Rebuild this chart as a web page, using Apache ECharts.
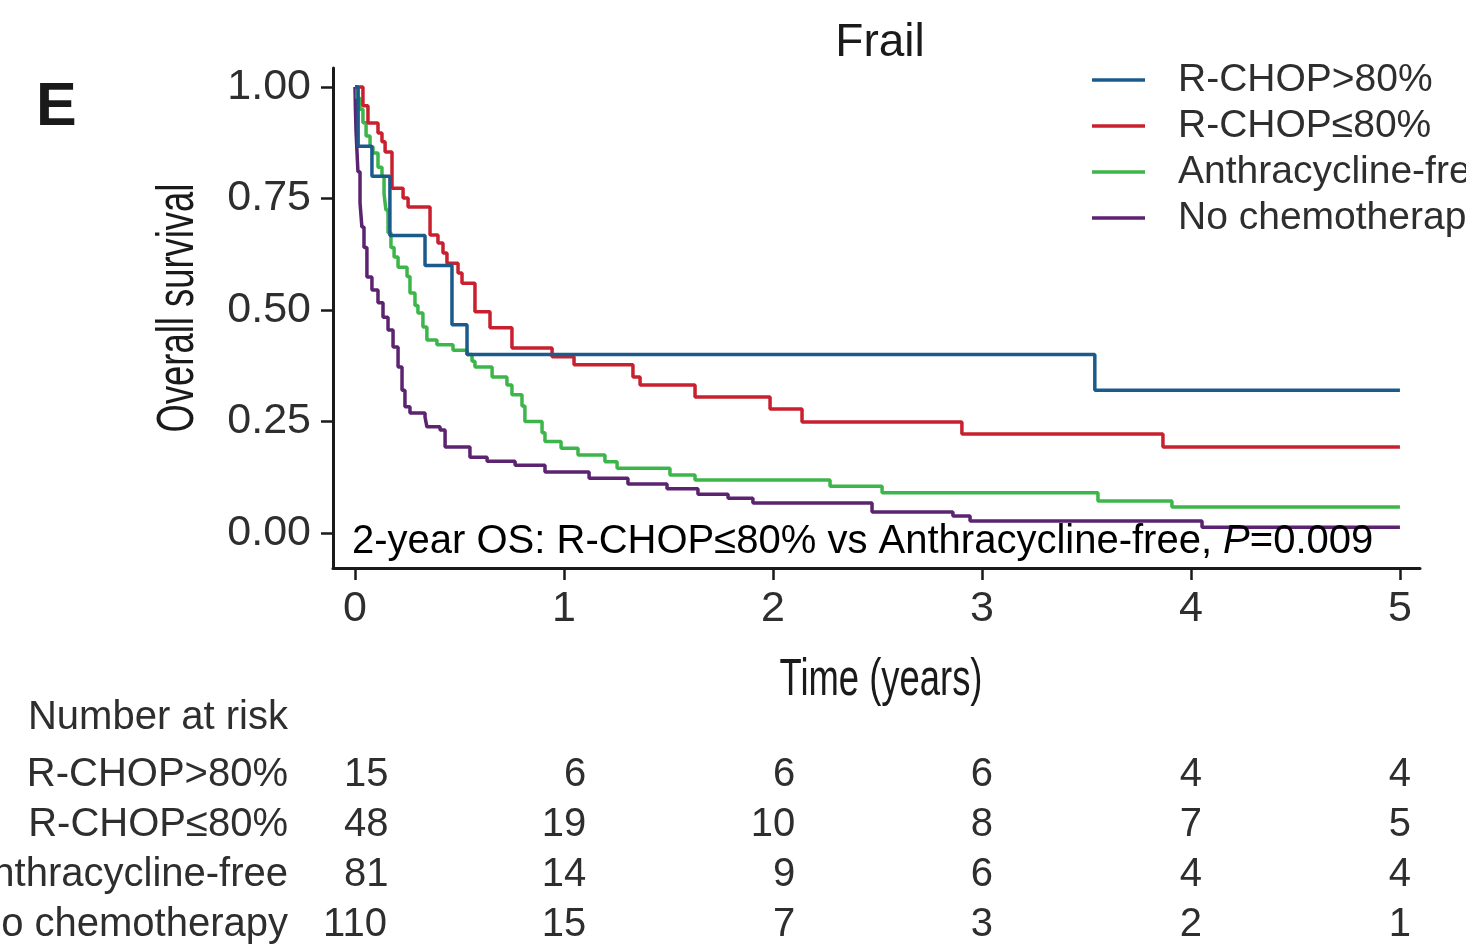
<!DOCTYPE html>
<html>
<head>
<meta charset="utf-8">
<script src="https://cdn.jsdelivr.net/npm/echarts@6/dist/echarts.min.js"></script>
<style>
  html, body { margin: 0; padding: 0; background: #fff; }
  #chart { width: 1466px; height: 944px; }
</style>
</head>
<body>
<div id="chart"></div>
<script>
// Kaplan-Meier steps: time (years) -> survival after the drop
const hiTime = [0, 0.015, 0.081, 0.167, 0.335, 0.464, 0.536, 3.54, 5];
const hiSurv = [1, 0.867, 0.8, 0.667, 0.6, 0.467, 0.4, 0.32, 0.32];

const loTime = [0, 0.038, 0.062, 0.11, 0.129, 0.144, 0.177, 0.23, 0.254, 0.359, 0.397, 0.421, 0.44,
  0.493, 0.512, 0.574, 0.646, 0.751, 0.943, 1.048, 1.33, 1.364, 1.627, 1.986, 2.139, 2.904, 3.866, 5];
const loSurv = [1, 0.958, 0.919, 0.897, 0.877, 0.854, 0.773, 0.751, 0.731, 0.668, 0.65, 0.628, 0.605,
  0.583, 0.56, 0.496, 0.46, 0.415, 0.395, 0.377, 0.35, 0.332, 0.305, 0.278, 0.249, 0.222, 0.193, 0.193];

const afTime = [0, 0.01, 0.024, 0.038, 0.053, 0.072, 0.086, 0.11, 0.129, 0.139, 0.148, 0.158, 0.172,
  0.187, 0.206, 0.249, 0.263, 0.287, 0.301, 0.325, 0.344, 0.392, 0.469, 0.536, 0.56, 0.574, 0.656,
  0.727, 0.751, 0.799, 0.813, 0.895, 0.909, 0.986, 1.067, 1.196, 1.254, 1.507, 1.627, 2.273, 2.522,
  3.555, 3.909, 5];
const afSurv = [1, 0.975, 0.95, 0.92, 0.89, 0.866, 0.852, 0.82, 0.8, 0.76, 0.724, 0.673, 0.64,
  0.619, 0.596, 0.575, 0.538, 0.51, 0.493, 0.462, 0.433, 0.422, 0.41, 0.4, 0.385, 0.372, 0.35,
  0.332, 0.31, 0.285, 0.25, 0.225, 0.205, 0.19, 0.175, 0.16, 0.145, 0.13, 0.119, 0.105, 0.09,
  0.072, 0.058, 0.058];

const ncTime = [0, 0.002, 0.005, 0.01, 0.014, 0.024, 0.033, 0.043, 0.057, 0.081, 0.11, 0.134, 0.158,
  0.182, 0.206, 0.225, 0.239, 0.263, 0.335, 0.344, 0.407, 0.431, 0.55, 0.632, 0.766, 0.909, 1.12,
  1.306, 1.493, 1.641, 1.785, 1.904, 2.474, 2.861, 2.943, 4.053, 5];
const ncSurv = [1, 0.95, 0.9, 0.85, 0.81, 0.74, 0.686, 0.64, 0.574, 0.545, 0.516, 0.484, 0.455,
  0.417, 0.372, 0.32, 0.283, 0.269, 0.26, 0.238, 0.231, 0.193, 0.17, 0.161, 0.152, 0.137, 0.123,
  0.11, 0.099, 0.087, 0.078, 0.067, 0.047, 0.038, 0.027, 0.013, 0.013];

const groupNames = ["R-CHOP>80%", "R-CHOP≤80%", "Anthracycline-free", "No chemotherapy"];
const groupColors = ["#1b5b8c", "#c8202f", "#3cb54a", "#5b2370"];

// number at risk table
const riskTimes = [0, 1, 2, 3, 4, 5];
const riskHi = [15, 6, 6, 6, 4, 4];
const riskLo = [48, 19, 10, 8, 7, 5];
const riskAf = [81, 14, 9, 6, 4, 4];
const riskNc = [110, 15, 7, 3, 2, 1];

const xTicks = [0, 1, 2, 3, 4, 5];
const yTicks = [0, 0.25, 0.5, 0.75, 1];

const FONT = "'Liberation Sans', Arial, sans-serif";
const TXT = "#2e2e2e";

const chart = echarts.init(document.getElementById("chart"));

const zip = (t, s) => t.map((v, i) => [v, s[i]]);
const curves = [zip(hiTime, hiSurv), zip(loTime, loSurv), zip(afTime, afSurv), zip(ncTime, ncSurv)];
const risks = [riskHi, riskLo, riskAf, riskNc];

// each column right-aligned, widest number centred on the tick
const digitW = 40 * 0.556;
const riskData = [];
riskTimes.forEach((t, j) => {
  const maxDigits = Math.max(...risks.map(r => String(r[j]).length));
  risks.forEach((r, i) => {
    const digits = String(r[j]).length;
    riskData.push({
      value: [t, groupNames[i], r[j]],
      label: { offset: [(maxDigits - digits) * digitW / 2, 0] },
    });
  });
});

const lineSeries = curves.map((d, i) => ({
  name: groupNames[i],
  type: "line",
  step: "end",
  data: d,
  symbol: "none",
  xAxisIndex: 0,
  yAxisIndex: 0,
  lineStyle: { color: groupColors[i], width: 3.5 },
  itemStyle: { color: groupColors[i] },
  z: 3 + (3 - i),
}));

const axisLineStyle = { color: "#1a1a1a", width: 3 };

const option = {
  animation: false,
  backgroundColor: "#fff",
  grid: [
    { left: 333, top: 68, width: 1087, height: 500, outerBoundsMode: "none", containLabel: false },
    { left: 333, top: 750, width: 1087, height: 200, outerBoundsMode: "none", containLabel: false },
  ],
  xAxis: [
    {
      type: "value",
      gridIndex: 0,
      min: -0.1053,
      max: 5.096,
      splitLine: { show: false },
      axisLine: { show: true, onZero: false, lineStyle: axisLineStyle },
      axisTick: { show: true, customValues: xTicks, length: 12, lineStyle: { color: "#1a1a1a", width: 2.5 } },
      axisLabel: {
        customValues: xTicks,
        margin: 20,
        fontSize: 43,
        fontFamily: FONT,
        color: TXT,
      },
    },
    {
      type: "value",
      gridIndex: 1,
      min: -0.1053,
      max: 5.096,
      show: false,
    },
  ],
  yAxis: [
    {
      type: "value",
      gridIndex: 0,
      min: -0.0785,
      max: 1.0426,
      splitLine: { show: false },
      axisLine: { show: true, onZero: false, lineStyle: axisLineStyle },
      axisTick: { show: true, customValues: yTicks, length: 12, lineStyle: { color: "#1a1a1a", width: 2.5 } },
      axisLabel: {
        customValues: yTicks,
        margin: 22,
        fontSize: 43,
        fontFamily: FONT,
        color: TXT,
        formatter: v => v.toFixed(2),
      },
    },
    {
      type: "category",
      gridIndex: 1,
      data: groupNames,
      inverse: true,
      axisLine: { show: false },
      axisTick: { show: false },
      splitLine: { show: false },
      axisLabel: { interval: 0, margin: 45, fontSize: 40, fontFamily: FONT, color: TXT },
    },
  ],
  legend: {
    orient: "vertical",
    left: 1092,
    top: 57,
    padding: 0,
    icon: "rect",
    itemWidth: 53,
    itemHeight: 3.5,
    itemGap: 0,
    selectedMode: false,
    data: groupNames,
    textStyle: {
      fontSize: 39,
      fontFamily: FONT,
      color: TXT,
      lineHeight: 46,
      padding: [0, 0, 0, 28],
    },
  },
  graphic: [
    {
      type: "text",
      x: 36, y: 139,
      style: { text: "E", font: "bold 61px " + FONT, fill: "#1a1a1a", textVerticalAlign: "bottom" },
    },
    {
      type: "text",
      x: 880, y: 43,
      style: { text: "Frail", font: "46px " + FONT, fill: "#1a1a1a", textAlign: "center", textVerticalAlign: "middle" },
    },
    {
      type: "text",
      x: 881, y: 681,
      scaleX: 0.7,
      style: { text: "Time (years)", font: "52px " + FONT, fill: "#1a1a1a", textAlign: "center", textVerticalAlign: "middle" },
    },
    {
      type: "text",
      x: 179, y: 308,
      rotation: Math.PI / 2,
      scaleX: 0.7,
      style: { text: "Overall survival", font: "52px " + FONT, fill: "#1a1a1a", textAlign: "center", textVerticalAlign: "middle" },
    },
    {
      type: "text",
      x: 288, y: 718,
      style: { text: "Number at risk", font: "40px " + FONT, fill: TXT, textAlign: "right", textVerticalAlign: "middle" },
    },
    {
      type: "text",
      x: 352, y: 542,
      z: 10,
      style: {
        text: "{a|2-year OS: R-CHOP≤80% vs Anthracycline-free, }{i|P}{a|=0.009}",
        textVerticalAlign: "middle",
        rich: {
          a: { fontSize: 40, fontFamily: FONT, color: TXT },
          i: { fontSize: 40, fontFamily: FONT, fontStyle: "italic", color: TXT },
        },
      },
    },
  ],
  series: [
    ...lineSeries,
    {
      type: "scatter",
      xAxisIndex: 1,
      yAxisIndex: 1,
      symbolSize: 1,
      itemStyle: { color: "rgba(0,0,0,0)", opacity: 1 },
      data: riskData,
      label: {
        show: true,
        position: "inside",
        fontSize: 40,
        fontFamily: FONT,
        color: TXT,
        opacity: 1,
        textBorderWidth: 0,
        formatter: p => p.value[2],
      },
    },
  ],
};

chart.setOption(option);
</script>
</body>
</html>
